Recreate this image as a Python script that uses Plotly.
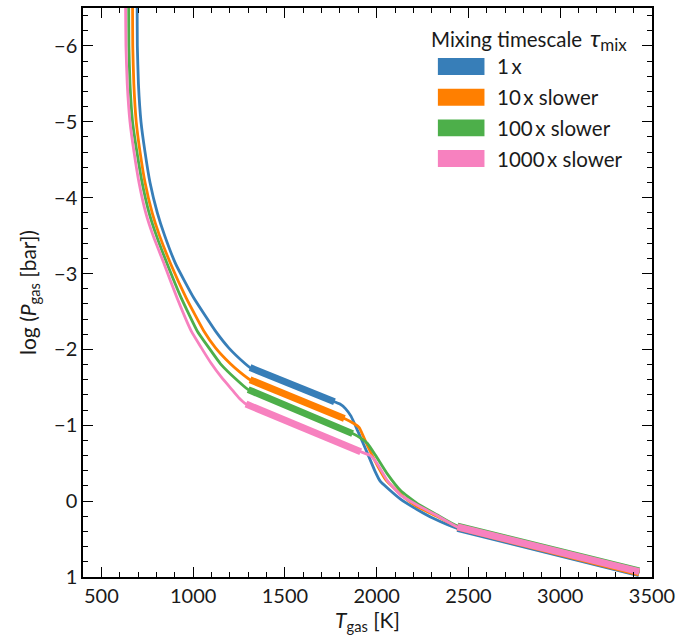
import plotly.graph_objects as go

# ---- data ----
names = ["1\u2009x", "10\u2009x slower", "100\u2009x slower", "1000\u2009x slower"]
colors = ["#377eb8", "#ff7f00", "#4daf4a", "#f781bf"]

T_1x = [693, 695, 696, 702, 716, 738, 765, 805, 845, 906, 1003, 1122, 1194, 1284, 1310, 1540, 1770,
        1800, 1830, 1860, 1896, 1950, 1990, 2020, 2060, 2128, 2220, 2311, 2440, 2900, 3430]
P_1x = [-7.0, -6.5, -6.0, -5.5, -5.0, -4.6, -4.2, -3.8, -3.5, -3.12, -2.68, -2.24, -2.02, -1.81, -1.76, -1.53, -1.31,
        -1.28, -1.22, -1.12, -0.93, -0.63, -0.40, -0.26, -0.17, -0.03, 0.11, 0.23, 0.36, 0.63, 0.955]
thick_1x = [(1310, 1770), (2440, 3430)]

T_10x = [669, 670, 671, 677, 690, 711, 738, 777, 817, 879, 962, 1059, 1122, 1203, 1255, 1310, 1570, 1824,
         1878, 1905, 1950, 2004, 2050, 2100, 2150, 2220, 2328, 2440, 2900, 3430]
P_10x = [-7.0, -6.5, -6.0, -5.5, -5.0, -4.6, -4.2, -3.8, -3.5, -3.12, -2.68, -2.24, -2.02, -1.81, -1.70, -1.60, -1.34, -1.09,
         -1.02, -0.97, -0.73, -0.47, -0.28, -0.16, -0.05, 0.07, 0.20, 0.34, 0.62, 0.945]
thick_10x = [(1310, 1824), (2440, 3430)]

T_100x = [648, 649, 650, 656, 670, 694, 722, 760, 800, 860, 935, 1023, 1086, 1149, 1237, 1300, 1585, 1869,
          1913, 1950, 1995, 2058, 2130, 2220, 2328, 2440, 2900, 3430]
P_100x = [-7.0, -6.5, -6.0, -5.5, -5.0, -4.6, -4.2, -3.8, -3.5, -3.12, -2.68, -2.24, -2.02, -1.81, -1.60, -1.47, -1.17, -0.89,
          -0.83, -0.76, -0.60, -0.36, -0.14, 0.03, 0.18, 0.33, 0.60, 0.92]
thick_100x = [(1300, 1869), (2440, 3430)]

T_1000x = [631, 632, 634, 641, 656, 678, 705, 742, 782, 843, 912, 990, 1045, 1100, 1155, 1215, 1250, 1288, 1600, 1913,
           1967, 2004, 2058, 2130, 2220, 2328, 2440, 2900, 3430]
P_1000x = [-7.0, -6.5, -6.0, -5.5, -5.0, -4.6, -4.2, -3.8, -3.5, -3.12, -2.68, -2.24, -2.02, -1.81, -1.63, -1.46, -1.36, -1.28, -0.96, -0.65,
           -0.60, -0.49, -0.27, -0.08, 0.05, 0.19, 0.34, 0.61, 0.93]
thick_1000x = [(1288, 1913), (2440, 3430)]

series = [
    (T_1x, P_1x, thick_1x),
    (T_10x, P_10x, thick_10x),
    (T_100x, P_100x, thick_100x),
    (T_1000x, P_1000x, thick_1000x),
]

FONT = "Lato"
TXT = "#1a1a1a"
fig = go.Figure()

for (T, P, thick), name, col in zip(series, names, colors):
    fig.add_trace(go.Scatter(x=T, y=P, mode="lines", name=name,
                             line=dict(color=col, width=2.8, shape="spline", smoothing=0.4),
                             showlegend=False))
    for lo, hi in thick:
        xs = [t for t in T if lo <= t <= hi]
        ys = [p for t, p in zip(T, P) if lo <= t <= hi]
        fig.add_trace(go.Scatter(x=xs, y=ys, mode="lines", name=name,
                                 line=dict(color=col, width=7), showlegend=False))

# ---- manual legend ----
L, R, TOP, BOT = 83, 657, 6, 577
W, H = R - L, BOT - TOP
def px(x):
    return (x - L) / W
def py(y):
    return 1 - (y - TOP) / H

shapes = []
annotations = []
annotations.append(dict(x=px(432), y=py(37), xref="paper", yref="paper", xanchor="left", yanchor="middle",
                        text="Mixing timescale\u2009 <span style='font-size:24px'><i>τ</i></span>"
                             "<sub><span style='font-size:17px'>mix</span></sub>",
                        showarrow=False,
                        font=dict(family=FONT, size=20.5, color=TXT)))
for i, (name, col) in enumerate(zip(names, colors)):
    cy = 64.7 + i * 30.8
    shapes.append(dict(type="rect", xref="paper", yref="paper",
                       x0=px(441), x1=px(488), y0=py(cy - 8.5), y1=py(cy + 8.5),
                       fillcolor=col, line=dict(width=0)))
    annotations.append(dict(x=px(499), y=py(cy), xref="paper", yref="paper", xanchor="left", yanchor="middle",
                            text=name, showarrow=False, font=dict(family=FONT, size=20.5, color=TXT)))

axis_common = dict(showline=True, linecolor="black", linewidth=1.5, mirror="allticks",
                   ticks="inside", ticklen=10, tickwidth=1.2, tickcolor="black",
                   showgrid=False, zeroline=False,
                   tickfont=dict(family=FONT, size=20, color=TXT))

fig.update_layout(
    width=681, height=642,
    margin=dict(l=L, r=681 - R, t=TOP, b=642 - BOT),
    paper_bgcolor="white", plot_bgcolor="white",
    showlegend=False,
    shapes=shapes, annotations=annotations,
    xaxis=dict(range=[400, 3500], tick0=500, dtick=500,
               minor=dict(ticks="inside", ticklen=5, dtick=100, tickcolor="black", tickwidth=1),
               title=dict(text="<i>T</i><sub>gas</sub> [K]", font=dict(family=FONT, size=21, color=TXT), standoff=6),
               **axis_common),
    yaxis=dict(range=[1, -6.5], tick0=0, dtick=1,
               minor=dict(ticks="inside", ticklen=5, dtick=0.2, tickcolor="black", tickwidth=1),
               title=dict(text="log (<i>P</i><sub>gas</sub> [bar])", font=dict(family=FONT, size=21, color=TXT), standoff=12),
               **axis_common),
)

fig.write_html("out.html")
